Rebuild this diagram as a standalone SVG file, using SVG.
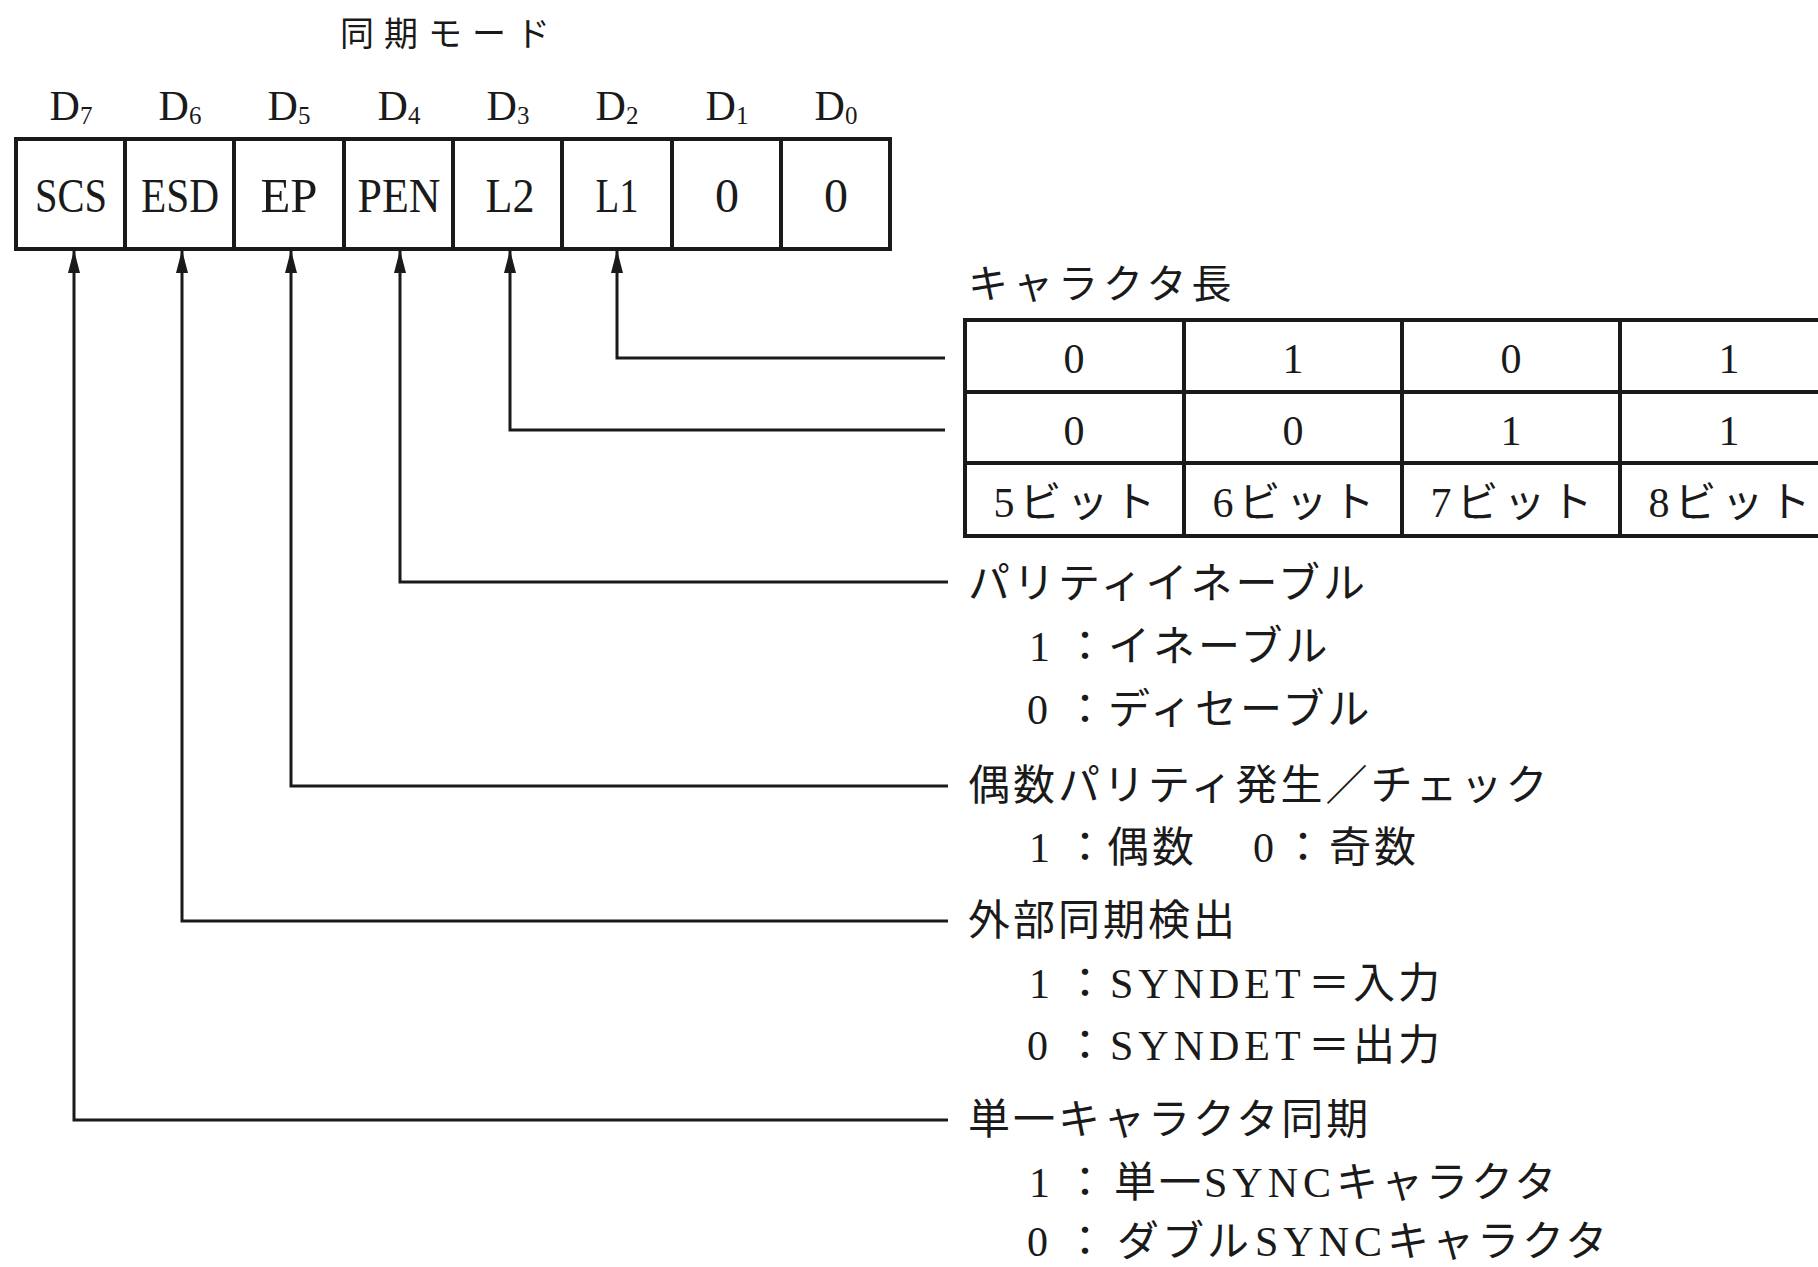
<svg xmlns="http://www.w3.org/2000/svg" width="1818" height="1267" viewBox="0 0 1818 1267">
<style>
.t{font-family:"Liberation Serif","Noto Sans CJK JP",serif;fill:#1a1a1a}
.lbl{font-size:42px;letter-spacing:3px}
.cell{font-size:48px;text-anchor:middle}
.bit{font-size:42px;text-anchor:middle}
.tab{font-size:42px;text-anchor:middle}
.box{fill:none;stroke:#1a1a1a;stroke-width:4}
.conn{fill:none;stroke:#1a1a1a;stroke-width:3}
</style>
<defs>
<marker id="arr" markerUnits="userSpaceOnUse" markerWidth="24" markerHeight="14" refX="22" refY="7" orient="auto" viewBox="0 0 24 14">
<path d="M0 1 L23 7 L0 13 Z" fill="#1a1a1a"/>
</marker>
</defs>
<rect width="1818" height="1267" fill="#fff"/>

<g id="title"><text class="t" x="340" y="46" font-size="34" letter-spacing="10">同期モード</text></g>

<g id="bitlabels" class="t">
<text class="bit" x="71" y="120">D<tspan font-size="25" dy="4">7</tspan></text>
<text class="bit" x="180" y="120">D<tspan font-size="25" dy="4">6</tspan></text>
<text class="bit" x="289" y="120">D<tspan font-size="25" dy="4">5</tspan></text>
<text class="bit" x="399" y="120">D<tspan font-size="25" dy="4">4</tspan></text>
<text class="bit" x="508" y="120">D<tspan font-size="25" dy="4">3</tspan></text>
<text class="bit" x="617" y="120">D<tspan font-size="25" dy="4">2</tspan></text>
<text class="bit" x="727" y="120">D<tspan font-size="25" dy="4">1</tspan></text>
<text class="bit" x="836" y="120">D<tspan font-size="25" dy="4">0</tspan></text>
</g>

<g id="register">
<rect class="box" x="16" y="139" width="874" height="110"/>
<path class="box" d="M125 139V249M234 139V249M344 139V249M453 139V249M562 139V249M672 139V249M781 139V249"/>
<g class="t">
<text class="cell" x="71" y="212" textLength="72" lengthAdjust="spacingAndGlyphs">SCS</text>
<text class="cell" x="180" y="212" textLength="78" lengthAdjust="spacingAndGlyphs">ESD</text>
<text class="cell" x="289" y="212" textLength="57" lengthAdjust="spacingAndGlyphs">EP</text>
<text class="cell" x="399" y="212" textLength="83" lengthAdjust="spacingAndGlyphs">PEN</text>
<text class="cell" x="510" y="212" textLength="49" lengthAdjust="spacingAndGlyphs">L2</text>
<text class="cell" x="617" y="212" textLength="43" lengthAdjust="spacingAndGlyphs">L1</text>
<text class="cell" x="727" y="212">0</text>
<text class="cell" x="836" y="212">0</text>
</g>
</g>

<g id="charlen">
<text class="t" x="968" y="298" font-size="40" letter-spacing="5">キャラクタ長</text>
<rect class="box" x="965" y="320" width="900" height="216"/>
<path class="box" d="M965 392H1865M965 463H1865M1184 320V536M1402 320V536M1620 320V536"/>
<g class="t">
<text class="tab" x="1074" y="373">0</text>
<text class="tab" x="1293" y="373">1</text>
<text class="tab" x="1511" y="373">0</text>
<text class="tab" x="1729" y="373">1</text>
<text class="tab" x="1074" y="445">0</text>
<text class="tab" x="1293" y="445">0</text>
<text class="tab" x="1511" y="445">1</text>
<text class="tab" x="1729" y="445">1</text>
<text class="tab" x="1077" y="517" letter-spacing="5">5ビット</text>
<text class="tab" x="1296" y="517" letter-spacing="5">6ビット</text>
<text class="tab" x="1514" y="517" letter-spacing="5">7ビット</text>
<text class="tab" x="1732" y="517" letter-spacing="5">8ビット</text>
</g>
</g>

<g id="connectors">
<path class="conn" marker-end="url(#arr)" d="M945 358H617V251"/>
<path class="conn" marker-end="url(#arr)" d="M945 430H510V251"/>
<path class="conn" marker-end="url(#arr)" d="M948 582H400V251"/>
<path class="conn" marker-end="url(#arr)" d="M948 786H291V251"/>
<path class="conn" marker-end="url(#arr)" d="M948 921H182V251"/>
<path class="conn" marker-end="url(#arr)" d="M948 1120H74V251"/>
</g>

<g id="pen" class="t lbl">
<text x="968" y="598">パリティイネーブル</text>
<text y="661"><tspan x="1029">1</tspan><tspan x="1064">：</tspan><tspan x="1108">イネーブル</tspan></text>
<text y="724"><tspan x="1027">0</tspan><tspan x="1064">：</tspan><tspan x="1108">ディセーブル</tspan></text>
</g>

<g id="ep" class="t lbl">
<text x="968" y="800">偶数パリティ発生／チェック</text>
<text y="862"><tspan x="1029">1</tspan><tspan x="1064">：</tspan><tspan x="1107">偶数</tspan><tspan x="1253">0</tspan><tspan x="1282">：</tspan><tspan x="1329">奇数</tspan></text>
</g>

<g id="esd" class="t lbl">
<text x="968" y="935">外部同期検出</text>
<text y="998"><tspan x="1029">1</tspan><tspan x="1064">：</tspan><tspan x="1110" letter-spacing="5">SYNDET</tspan><tspan x="1308">＝入力</tspan></text>
<text y="1060"><tspan x="1027">0</tspan><tspan x="1064">：</tspan><tspan x="1110" letter-spacing="5">SYNDET</tspan><tspan x="1308">＝出力</tspan></text>
</g>

<g id="scs" class="t lbl">
<text x="968" y="1134">単一キャラクタ同期</text>
<text y="1197"><tspan x="1029">1</tspan><tspan x="1064">：</tspan><tspan x="1114">単一</tspan><tspan x="1204" letter-spacing="5">SYNC</tspan><tspan x="1336">キャラクタ</tspan></text>
<text y="1256"><tspan x="1027">0</tspan><tspan x="1064">：</tspan><tspan x="1117">ダブル</tspan><tspan x="1255" letter-spacing="5">SYNC</tspan><tspan x="1387">キャラクタ</tspan></text>
</g>
</svg>
